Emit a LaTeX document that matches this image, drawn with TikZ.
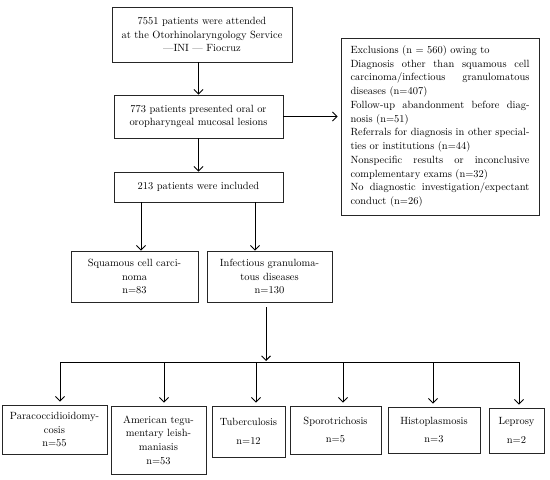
\documentclass[tikz,border=0pt]{standalone}
\usetikzlibrary{arrows.meta}
\newcommand{\jline}[1]{\leavevmode\hbox to 179bp{#1}}
\begin{document}
\begin{tikzpicture}[x=1bp,y=-1bp,
  box/.style={draw=black!85, line width=0.9bp, inner sep=0pt, align=center,
    font=\fontsize{10.5}{13.8}\selectfont},
  arr/.style={line width=0.9bp, -{Straight Barb[length=4.5bp,width=9bp,line width=0.9bp]}},
  conn/.style={line width=0.9bp}]
\useasboundingbox (0,0) rectangle (550,480);
% top column
\node[box, minimum width=180bp, minimum height=55bp] (b1) at (202,34.5)
  {7551 patients were attended\\at the Otorhinolaryngology Service\\—INI — Fiocruz};
\node[box, minimum width=169bp, minimum height=43bp] (b2) at (198.5,116.5)
  {773 patients presented oral or\\oropharyngeal mucosal lesions};
\node[box, minimum width=169bp, minimum height=30bp] (b3) at (198.5,187)
  {213 patients were included};
\node[box, minimum width=198bp, minimum height=177bp, text width=179bp, align=left] (ex) at (440,126.5)
  {Exclusions (n = 560) owing to\\
   \jline{Diagnosis\hfill other\hfill than\hfill squamous\hfill cell}\\
   \jline{carcinoma/infectious\hfill granulomatous}\\
   diseases (n=407)\\
   \jline{Follow-up\hfill abandonment\hfill before\hfill diag-}\\
   nosis (n=51)\\
   \jline{Referrals\hfill for\hfill diagnosis\hfill in\hfill other\hfill special-}\\
   ties or institutions (n=44)\\
   \jline{Nonspecific\hfill results\hfill or\hfill inconclusive}\\
   complementary exams (n=32)\\
   \jline{No\hfill diagnostic\hfill investigation/expectant}\\
   conduct (n=26)};
% second level
\node[box, minimum width=127bp, minimum height=51bp] (sq) at (134.5,276.5)
  {Squamous cell carci-\\noma\\n=83};
\node[box, minimum width=125bp, minimum height=51bp] (inf) at (269.5,276.5)
  {Infectious granuloma-\\tous diseases\\n=130};
% bottom row
\node[box, minimum width=105bp, minimum height=49bp] (para) at (54.5,429.5)
  {Paracoccidioidomy-\\cosis\\n=55};
\node[box, minimum width=95bp, minimum height=68bp] (amer) at (158.5,440)
  {American tegu-\\mentary leish-\\maniasis\\n=53};
\node[box, minimum width=73bp, minimum height=51bp] (tub) at (248.5,431.5)
  {Tuberculosis\\[5bp]n=12};
\node[box, minimum width=91bp, minimum height=48bp] (spo) at (335.5,430)
  {Sporotrichosis\\[5bp]n=5};
\node[box, minimum width=92bp, minimum height=46bp] (his) at (434,430)
  {Histoplasmosis\\[5bp]n=3};
\node[box, minimum width=55bp, minimum height=45bp] (lep) at (516.5,430.5)
  {Leprosy\\[5bp]n=2};
% connectors
\draw[arr] (b1.south -| b2.north) -- (b2.north);
\draw[arr] (b2.south) -- (b3.north);
\draw[arr, shorten >=3bp] (b2.east) -- (b2.east -| ex.west);
\draw[arr] ([xshift=6.5bp]sq.north |- b3.south) -- ([xshift=6.5bp]sq.north);
\draw[arr] ([xshift=-14.5bp]inf.north |- b3.south) -- ([xshift=-14.5bp]inf.north);
\coordinate (busL) at ([xshift=5.5bp]para.north |- 0,362);
\coordinate (busR) at ([xshift=2.5bp]lep.north |- 0,362);
\draw[arr, shorten <=5bp, shorten >=1bp] ([xshift=-3.5bp]inf.south) -- ([xshift=-3.5bp]inf.south |- busL);
\draw[conn] (busL) -- (busR);
\draw[arr, shorten >=3bp] (busL) -- ([xshift=5.5bp]para.north);
\draw[arr, shorten >=3bp] ([xshift=5.5bp]amer.north |- busL) -- ([xshift=5.5bp]amer.north);
\draw[arr, shorten >=3bp] ([xshift=7.5bp]tub.north |- busL) -- ([xshift=7.5bp]tub.north);
\draw[arr, shorten >=3bp] ([xshift=7.5bp]spo.north |- busL) -- ([xshift=7.5bp]spo.north);
\draw[arr, shorten >=3bp] ([xshift=-1bp]his.north |- busL) -- ([xshift=-1bp]his.north);
\draw[arr, shorten >=3bp] (busR) -- ([xshift=2.5bp]lep.north);
\end{tikzpicture}
\end{document}
